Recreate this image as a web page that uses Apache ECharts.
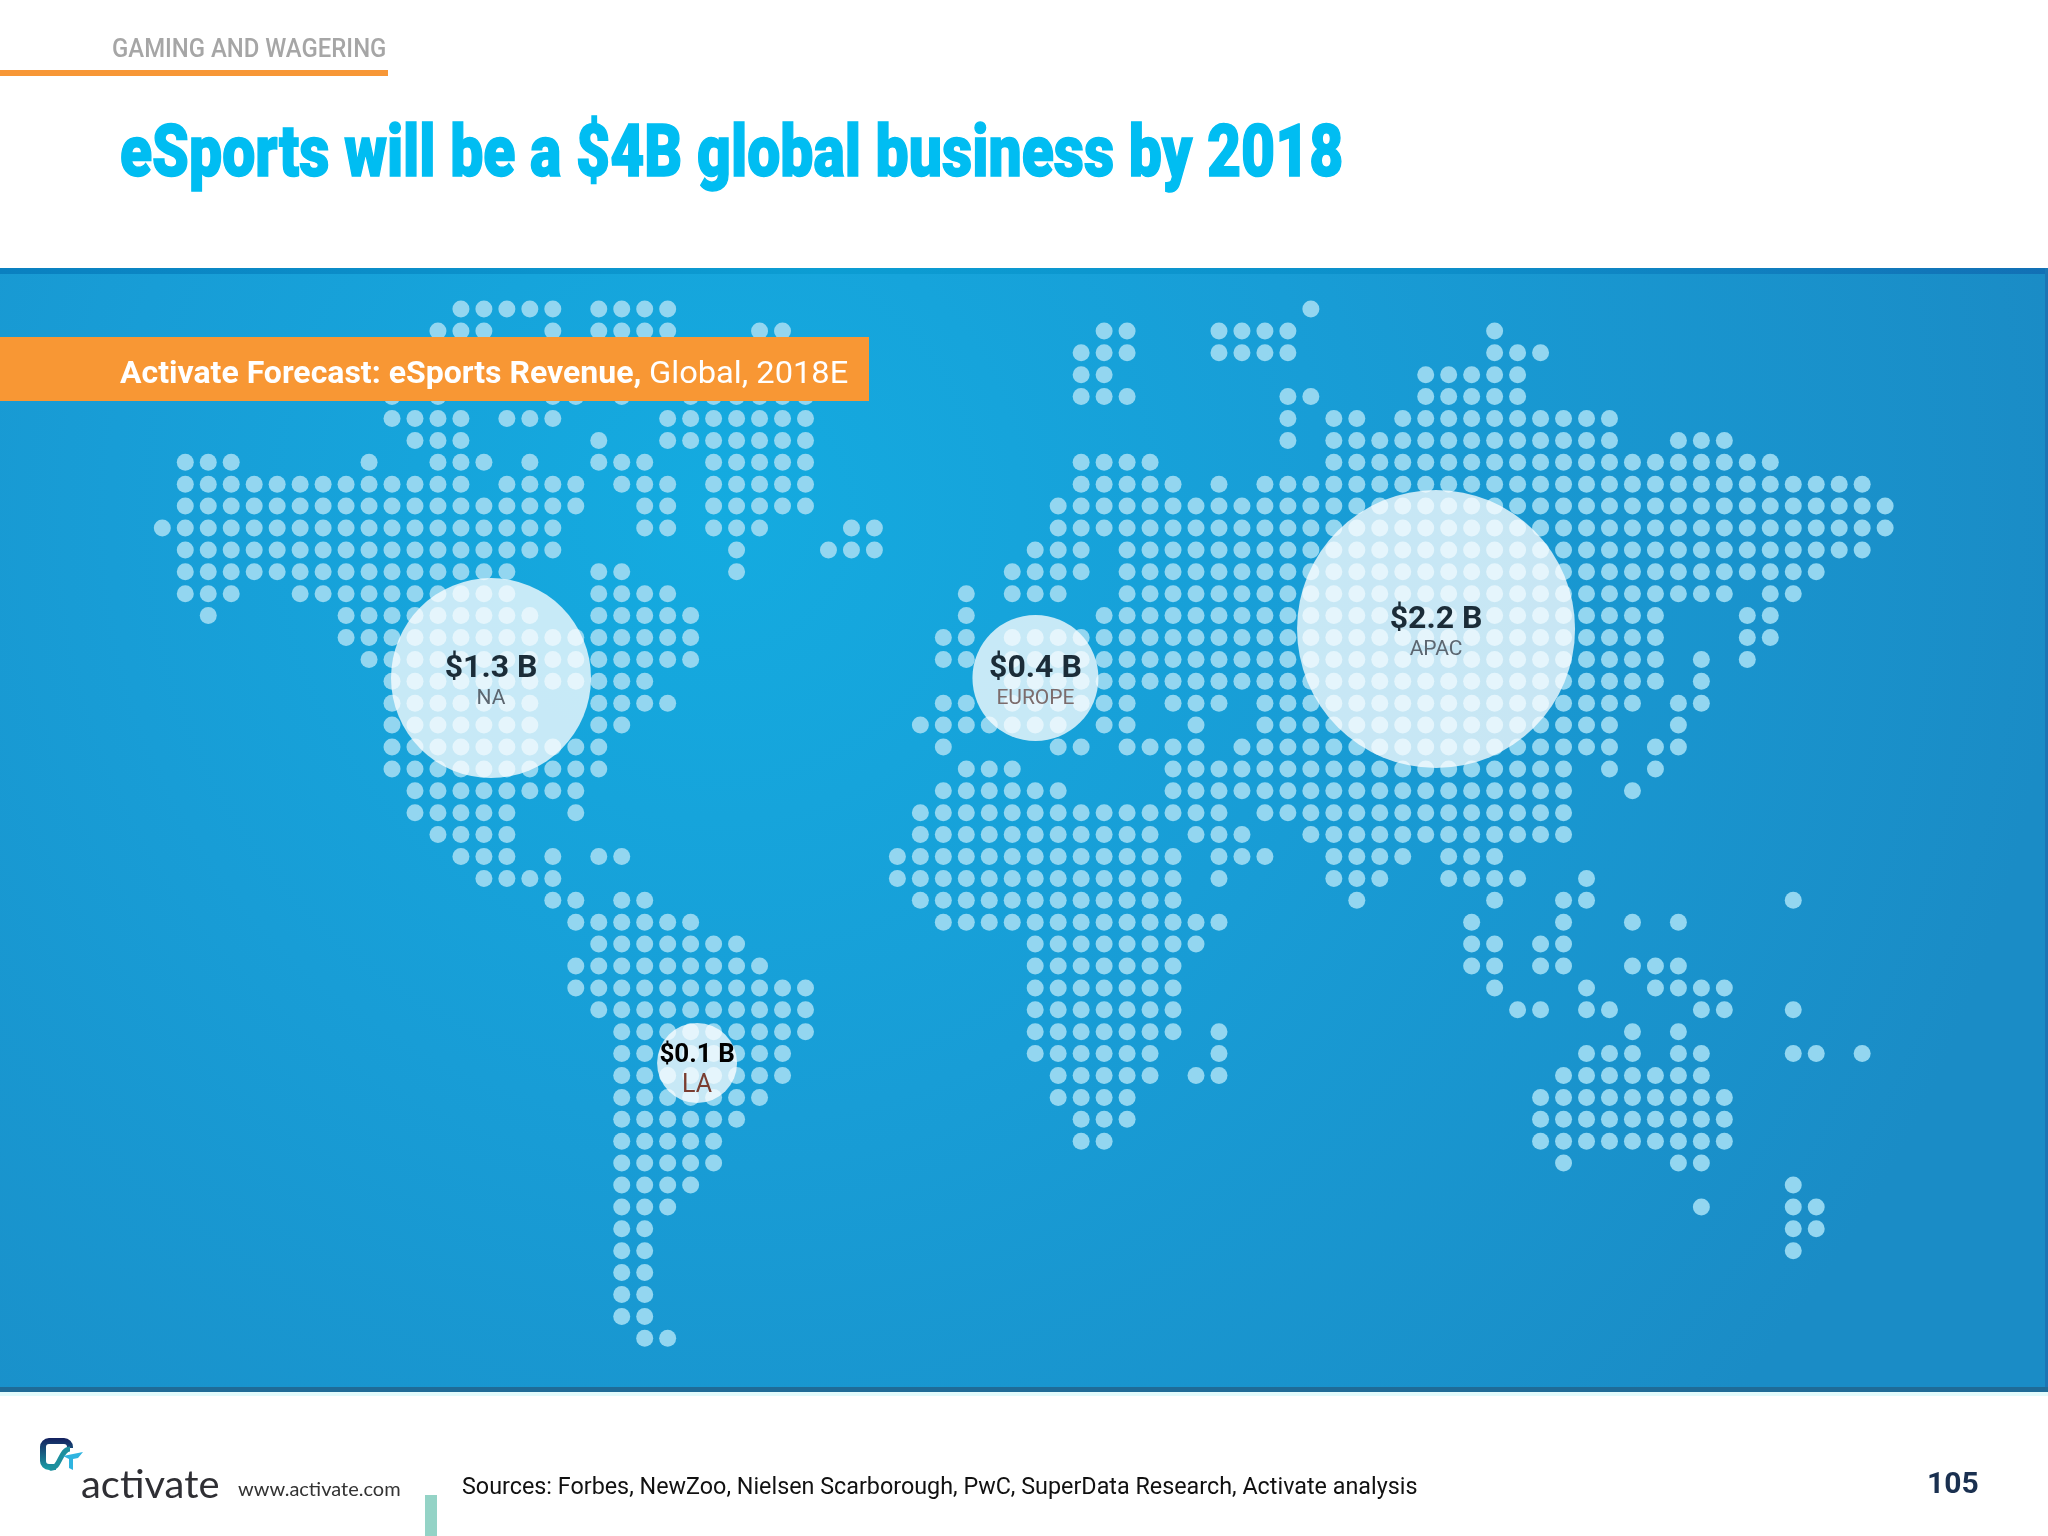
<!DOCTYPE html>
<html>
<head>
    <title>eSports will be a $4B global business by 2018</title>
    <style>
        html, body { margin: 0; padding: 0; background: #fff; }
    </style>
    <script src="https://cdn.jsdelivr.net/npm/echarts@6/dist/echarts.min.js"></script>
</head>
<body>
<div id="chart" style="width: 2048px; height: 1536px;"></div>
<script>
    // regions: revenue in $B, position on the dot grid (column, row)
    var regionNames = ['NA', 'EUROPE', 'APAC', 'LA'];
    var regionRevenue = [1.3, 0.4, 2.2, 0.1];
    var regionCols = [14.31, 38.01, 55.45, 23.28];
    var regionRows = [16.85, 16.85, 14.61, 34.43];

    // world map dots, one entry per grid row, as column spans
    // rows 2 and 3 over north america sit behind the orange banner and cannot be read
    var dotRows = [
        '13-17 19-22 50',
        '12-14 17 19-22 26-27 41-42 46-49 58',
        '40-42 46-49 58-60',
        '40-41 55-59',
        '10 12 17-18 20 23-28 40-42 49-50 55-59',
        '10-13 15-17 22-28 49 51-52 54-63',
        '11-13 19 22-28 49 51-63 66-68',
        '1-3 9 12-14 16 19-21 24-28 40-43 51-70',
        '1-13 15-18 20-22 24-28 40-44 46 48-74',
        '1-18 21-22 24-28 39-75',
        '0-17 21-22 24-26 30-31 39-75',
        '1-17 25 29-31 38-40 42-74',
        '1-15 19-20 25 37-40 42-72',
        '1-3 6-15 19-22 35 37-39 42-68 70-71',
        '2 8-16 19-23 35 41-65 69-70',
        '8-23 34-35 37-65 69-70',
        '9-23 34-35 37-65 67 69',
        '10-21 37-65 67',
        '10-16 19-22 34-35 37-42 44-46 48-64 66-67',
        '10-16 19-20 33-39 41-42 45 48-63 66',
        '10-19 34 39-40 42-45 47-63 65-66',
        '10-19 35-37 44-61 63 65',
        '11-18 34-39 44-61 64',
        '11-15 18 33-46 48-61',
        '12-15 33-43 45-47 50-61',
        '13-15 17 19-20 32-44 46-48 51-54 56-58',
        '14-17 32-44 46 51-53 56-59 62',
        '17-18 20-21 33-44 52 58 61-62 71',
        '18-23 34-46 57 61 64 66',
        '19-25 38-45 57-58 60-61',
        '18-26 38-44 57-58 60-61 64-66',
        '18-28 38-44 58 62 65-68',
        '19-28 38-44 59-60 62-63 67-68 71',
        '20-28 38-44 46 64 66',
        '20-27 38-43 46 62-64 66-67 71-72 74',
        '20-27 39-43 45-46 61-67',
        '20-26 39-42 60-68',
        '20-25 40-42 60-68',
        '20-24 40-41 60-68',
        '20-24 61 66-67',
        '20-23 71',
        '20-22 67 71-72',
        '20-21 71-72',
        '20-21 71',
        '20-21',
        '20-21',
        '20-21',
        '21-22'
    ];

    // expand the spans into [col, row] points
    var dotData = [];
    dotRows.forEach(function (spans, row) {
        spans.split(' ').forEach(function (span) {
            var ends = span.split('-').map(Number);
            var last = ends.length > 1 ? ends[1] : ends[0];
            for (var col = ends[0]; col <= last; col++) {
                dotData.push([col, row]);
            }
        });
    });

    var bubbleDiameter = { NA: 200, EUROPE: 126, APAC: 278, LA: 80 };

    var bubbleData = regionNames.map(function (name, i) {
        var small = name === 'LA';
        return {
            name: name,
            value: [regionCols[i], regionRows[i], regionRevenue[i]],
            symbolSize: bubbleDiameter[name],
            label: {
                offset: small ? [0, 8] : [0, 6],
                rich: {
                    v: {
                        fontFamily: 'Roboto',
                        fontWeight: 'bold',
                        fontSize: small ? 26 : 32,
                        lineHeight: 30,
                        align: 'center',
                        color: small ? '#000000' : '#1b2c38'
                    },
                    n: {
                        fontFamily: 'Roboto',
                        fontSize: small ? 25 : 21,
                        lineHeight: small ? 32 : 30,
                        align: 'center',
                        color: small ? '#7a3d30' : (name === 'EUROPE' ? '#7c6c6c' : '#5c6670')
                    }
                }
            }
        };
    });

    function text(str, x, y, font, fill, scaleX, strokeWidth) {
        return {
            type: 'text',
            x: x,
            y: y,
            scaleX: scaleX || 1,
            z: 100,
            silent: true,
            style: {
                text: str,
                font: font,
                fill: fill,
                stroke: strokeWidth ? fill : null,
                lineWidth: strokeWidth || 0,
                align: 'left',
                verticalAlign: 'middle'
            }
        };
    }

    var chart = echarts.init(document.getElementById('chart'));

    var option = {
        animation: false,
        backgroundColor: '#ffffff',
        grid: {
            left: 0,
            right: 0,
            top: 268,
            height: 1122,
            show: true,
            borderWidth: 0,
            backgroundColor: {
                type: 'radial',
                x: 0.35,
                y: 0.22,
                r: 1.2,
                colorStops: [
                    { offset: 0, color: '#14abe0' },
                    { offset: 0.45, color: '#189dd6' },
                    { offset: 1, color: '#1a8cc6' }
                ]
            }
        },
        xAxis: { type: 'value', min: -7.066, max: 82.09, show: false },
        yAxis: { type: 'value', min: -1.872, max: 49.36, inverse: true, show: false },
        series: [
            {
                name: 'dots',
                type: 'scatter',
                silent: true,
                symbolSize: 17,
                itemStyle: { color: '#93d6f0', opacity: 1 },
                data: dotData,
                large: false
            },
            {
                name: 'revenue',
                type: 'scatter',
                silent: true,
                z: 5,
                itemStyle: { color: 'rgba(255,255,255,0.76)', opacity: 1 },
                label: {
                    show: true,
                    position: 'inside',
                    formatter: function (p) {
                        return '{v|$' + p.value[2].toFixed(1) + ' B}\n{n|' + p.name + '}';
                    }
                },
                data: bubbleData
            }
        ],
        graphic: {
            elements: [
                // section header
                text('GAMING AND WAGERING', 112, 51, '500 25px Roboto', '#a6a6a6', 0.956),
                { type: 'rect', z: 100, silent: true, shape: { x: 0, y: 70, width: 388, height: 6 }, style: { fill: '#f79737' } },
                text('eSports will be a $4B global business by 2018', 120, 158, '900 73px Roboto', '#00bdf2', 0.807, 1.5),

                // edges of the map panel
                {
                    type: 'rect', z: 100, silent: true,
                    shape: { x: 0, y: 268, width: 2048, height: 6 },
                    style: {
                        fill: {
                            type: 'linear', x: 0, y: 0, x2: 1, y2: 0,
                            colorStops: [
                                { offset: 0, color: '#0a80c0' },
                                { offset: 0.4, color: '#0c9dd3' },
                                { offset: 0.7, color: '#0d8fca' },
                                { offset: 1, color: '#1270b5' }
                            ]
                        }
                    }
                },
                { type: 'rect', z: 100, silent: true, shape: { x: 2045, y: 268, width: 3, height: 1122 }, style: { fill: '#1b76b5' } },
                { type: 'rect', z: 100, silent: true, shape: { x: 0, y: 1387, width: 2048, height: 5 }, style: { fill: '#1f6b97' } },
                { type: 'rect', z: 100, silent: true, shape: { x: 0, y: 1392, width: 2048, height: 4 }, style: { fill: '#e2fbfc' } },

                // orange banner
                { type: 'rect', z: 100, silent: true, shape: { x: 0, y: 337, width: 869, height: 64 }, style: { fill: '#f89734' } },
                text('Activate Forecast: eSports Revenue,', 120, 375, 'bold 32px Roboto', '#ffffff'),
                text('Global, 2018E', 649, 375, '32px Roboto', '#ffffff', 1.02),

                // logo
                {
                    type: 'rect', z: 100, silent: true,
                    shape: { x: 43, y: 1441, width: 27, height: 26, r: 6 },
                    style: {
                        fill: 'none',
                        lineWidth: 6,
                        stroke: {
                            type: 'linear', x: 0, y: 0, x2: 0, y2: 1,
                            colorStops: [
                                { offset: 0, color: '#14205e' },
                                { offset: 1, color: '#1aa0a8' }
                            ]
                        }
                    }
                },
                { type: 'rect', z: 101, silent: true, shape: { x: 56, y: 1448, width: 20, height: 24 }, style: { fill: '#ffffff' } },
                {
                    type: 'bezierCurve', z: 102, silent: true,
                    shape: { x1: 50, y1: 1468, cpx1: 60, cpy1: 1470, cpx2: 60, cpy2: 1449, x2: 70, y2: 1449 },
                    style: { fill: 'none', stroke: '#1d8f9e', lineWidth: 5 }
                },
                {
                    type: 'polygon', z: 103, silent: true,
                    shape: { points: [[63, 1456], [83, 1452], [78, 1458], [73, 1459], [73, 1470], [69, 1468], [69, 1459]] },
                    style: { fill: '#2fb4e0' }
                },

                // footer
                text('activate', 81, 1486, '38px Lato', '#2f2f34', 1.05),
                text('www.activate.com', 238, 1490, '19.5px Lato', '#333333', 1.025),
                { type: 'rect', z: 100, silent: true, shape: { x: 425, y: 1495, width: 12, height: 41 }, style: { fill: '#94d3c6' } },
                text('Sources: Forbes, NewZoo, Nielsen Scarborough, PwC, SuperData Research, Activate analysis', 462, 1488, '24px Roboto', '#111111', 0.972),
                text('105', 1927, 1485, 'bold 30px Roboto', '#1a3050')
            ]
        }
    };

    chart.setOption(option);
</script>
</body>
</html>
